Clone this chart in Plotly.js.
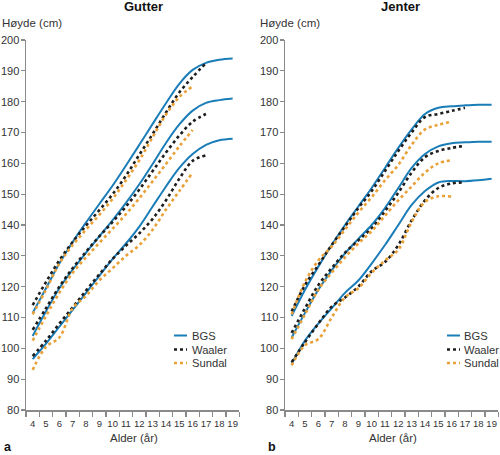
<!DOCTYPE html>
<html>
<head>
<meta charset="utf-8">
<script src="https://cdn.plot.ly/plotly-3.0.1.min.js"></script>
<style>html,body{margin:0;padding:0;background:#fff;}#chart{width:500px;height:455px;}</style>
</head>
<body>
<div id="chart"></div>
<script>
// ---- Data ----
const seriesNames = ["BGS", "Waaler", "Sundal"];
const panelTitles = ["Gutter", "Jenter"];
const panelLetters = ["a", "b"];
const yTickVals = [80, 90, 100, 110, 120, 130, 140, 150, 160, 170, 180, 190, 200];
const xTickVals = [4, 5, 6, 7, 8, 9, 10, 11, 12, 13, 14, 15, 16, 17, 18, 19];

const agesBGS = [4, 5, 6, 7, 8, 9, 10, 11, 12, 13, 14, 15, 16, 17, 18, 19];
const agesWaaler = [4, 5, 6, 7, 8, 9, 10, 11, 12, 13, 14, 15, 16, 17];
const agesSundal = [4, 5, 6, 7, 8, 9, 10, 11, 12, 13, 14, 15, 16];

// Gutter (boys)
const boysBGSHigh = [111.5, 119.5, 127.5, 134.5, 140.8, 146.8, 152.8, 159.3, 166, 172.8, 179.5, 185.8, 190.3, 192.6, 193.6, 194];
const boysBGSMid = [104, 112, 119.5, 125.5, 131, 136.3, 141.6, 147.2, 153.2, 159.8, 166.6, 172.6, 177.1, 179.6, 180.5, 181];
const boysBGSLow = [96.5, 101.5, 107, 112.5, 118, 123.5, 129, 134, 139.5, 146, 152.5, 158.5, 163, 166, 167.5, 168];
const boysWaalerHigh = [114, 121.5, 128.5, 134.5, 139.8, 144.8, 150, 156, 162.8, 169.5, 176.5, 183, 188, 192.5];
const boysWaalerMid = [106, 113, 120, 126, 131.3, 136.3, 141, 146, 151.5, 157.5, 163.5, 169, 173.5, 176];
const boysWaalerLow = [97.5, 102.5, 108, 113.3, 118.7, 124, 129, 133.3, 137.3, 142, 148, 155, 160.8, 162.6];
const boysSundalHigh = [111, 119, 127.5, 133.5, 138.5, 143.3, 148.5, 154.5, 161, 168.5, 175.8, 181.5, 185];
const boysSundalMid = [102.5, 110.5, 118, 124.5, 129.5, 134.2, 138.8, 143.5, 148.7, 154.2, 159.8, 165.5, 170.8];
const boysSundalLow = [93, 100.5, 103.5, 113, 117, 122, 126, 130, 133.5, 138.5, 145, 151, 157];

// Jenter (girls)
const girlsBGSHigh = [110.5, 119, 126.5, 133.5, 140, 146, 152, 158.5, 165, 171, 176, 178, 178.5, 178.8, 179, 179];
const girlsBGSMid = [103.5, 111.5, 119, 125.3, 130.8, 135.5, 140, 145.5, 152, 158.5, 163, 165.5, 166.5, 166.8, 167, 167];
const girlsBGSLow = [95, 102.5, 108, 113, 118, 122, 127.5, 133.5, 140, 146.5, 151, 153.8, 154.3, 154.2, 154.5, 155];
const girlsWaalerHigh = [112, 120.5, 127, 133.5, 139.5, 145.5, 151, 157.5, 164, 170, 175, 176, 177, 178];
const girlsWaalerMid = [105, 113, 120.5, 126, 131, 135, 139, 144.5, 150.5, 157, 162, 164, 165, 165.7];
const girlsWaalerLow = [95.5, 102, 108, 113.5, 116.5, 120, 125, 128, 133.5, 141.5, 148, 152, 153.5, 153.8];
const girlsSundalHigh = [111, 121.5, 128.5, 133, 138.5, 144, 149, 154.5, 159.5, 166, 171, 172.5, 173.5];
const girlsSundalMid = [103, 111, 119, 124.5, 129.5, 134, 138, 143, 148, 152.5, 157, 160, 161];
const girlsSundalLow = [94.5, 101, 103, 110, 116.5, 119.5, 124.5, 128.5, 132, 141, 147.5, 149.3, 149.2];

// ---- Styles ----
const colors = {BGS: "#1b7db8", Waaler: "#1e1e1e", Sundal: "#e9a036"};
const lineStyles = {
  BGS: {color: colors.BGS, width: 2, dash: "solid", shape: "spline", smoothing: 1},
  Waaler: {color: colors.Waaler, width: 2.6, dash: "dot", shape: "spline", smoothing: 1},
  Sundal: {color: colors.Sundal, width: 2.6, dash: "dot", shape: "spline", smoothing: 1}
};

const panels = [
  {xa: "x", ya: "y", data: {
    BGS: [agesBGS, [boysBGSHigh, boysBGSMid, boysBGSLow]],
    Waaler: [agesWaaler, [boysWaalerHigh, boysWaalerMid, boysWaalerLow]],
    Sundal: [agesSundal, [boysSundalHigh, boysSundalMid, boysSundalLow]]
  }},
  {xa: "x2", ya: "y2", data: {
    BGS: [agesBGS, [girlsBGSHigh, girlsBGSMid, girlsBGSLow]],
    Waaler: [agesWaaler, [girlsWaalerHigh, girlsWaalerMid, girlsWaalerLow]],
    Sundal: [agesSundal, [girlsSundalHigh, girlsSundalMid, girlsSundalLow]]
  }}
];

const traces = [];
panels.forEach(p => {
  seriesNames.forEach(name => {
    const [ages, curves] = p.data[name];
    curves.forEach(vals => {
      traces.push({
        type: "scatter", mode: "lines", x: ages, y: vals,
        xaxis: p.xa, yaxis: p.ya, name: name, showlegend: false,
        hoverinfo: "skip",
        line: Object.assign({}, lineStyles[name])
      });
    });
  });
});

const W = 500, H = 455;
const px = v => v / W;
const py = v => 1 - v / H;
const FONT = "Liberation Sans, Arial, Helvetica, sans-serif";

const minorVals = [];
for (let v = 3.5; v <= 19.5; v += 1) minorVals.push(v);

function xAxis(domain, anchor) {
  return {
    domain: domain, anchor: anchor, range: [3.5, 19.5], fixedrange: true,
    showgrid: false, zeroline: false, showline: true, linecolor: "#8a8a8a", linewidth: 1.5,
    tickmode: "array", tickvals: xTickVals, ticktext: xTickVals.map(String),
    ticks: "outside", ticklen: 4, tickcolor: "rgba(0,0,0,0)",
    tickfont: {family: FONT, size: 9.5, color: "#333"},
    minor: {tickmode: "array", tickvals: minorVals, ticks: "outside", ticklen: 5, tickcolor: "#8a8a8a", tickwidth: 1.2, showgrid: false}
  };
}
function yAxis(anchor) {
  return {
    domain: [py(410), py(40)], anchor: anchor, range: [80, 200], fixedrange: true,
    showgrid: false, zeroline: false, showline: true, linecolor: "#8a8a8a", linewidth: 1.5,
    tickmode: "array", tickvals: yTickVals, ticks: "outside", ticklen: 4, tickcolor: "#8a8a8a", tickwidth: 1.2,
    ticklabelstandoff: -1,
    tickfont: {family: FONT, size: 11, color: "#333"}
  };
}

const annotations = [];
const shapes = [];
const panelPix = [
  {title: 143, ylab: 0, xlab: 134, letter: 3, legLine: [174, 187], legText: 189.5},
  {title: 400, ylab: 258, xlab: 393, letter: 267, legLine: [447, 460], legText: 462}
];
panelPix.forEach((pp, i) => {
  annotations.push({xref: "paper", yref: "paper", x: px(pp.title), y: py(7), xanchor: "center", yanchor: "middle",
    text: "<b>" + panelTitles[i] + "</b>", showarrow: false, font: {family: FONT, size: 13, color: "#111"}});
  annotations.push({xref: "paper", yref: "paper", x: px(pp.ylab), y: py(23), xanchor: "left", yanchor: "middle",
    text: "Høyde (cm)", showarrow: false, font: {family: FONT, size: 11.5, color: "#333"}});
  annotations.push({xref: "paper", yref: "paper", x: px(pp.xlab), y: py(438), xanchor: "center", yanchor: "middle",
    text: "Alder (år)", showarrow: false, font: {family: FONT, size: 11.5, color: "#333"}});
  annotations.push({xref: "paper", yref: "paper", x: px(pp.letter), y: py(446.5), xanchor: "left", yanchor: "middle",
    text: "<b>" + panelLetters[i] + "</b>", showarrow: false, borderpad: 0, font: {family: FONT, size: 12.5, color: "#111"}});
  const legY = [335.5, 349.5, 363];
  seriesNames.forEach((name, k) => {
    const st = lineStyles[name];
    shapes.push({type: "line", xref: "paper", yref: "paper",
      x0: px(pp.legLine[0]), x1: px(pp.legLine[1]), y0: py(legY[k]), y1: py(legY[k]),
      line: {color: st.color, width: st.width, dash: st.dash}});
    annotations.push({xref: "paper", yref: "paper", x: px(pp.legText), y: py(legY[k]), xanchor: "left", yanchor: "middle",
      text: name, showarrow: false, font: {family: FONT, size: 11.2, color: "#333"}});
  });
});

const layout = {
  width: W, height: H, margin: {l: 0, r: 0, t: 0, b: 0, pad: 0},
  paper_bgcolor: "#fff", plot_bgcolor: "#fff", showlegend: false,
  font: {family: FONT},
  xaxis: xAxis([px(26), px(239.3)], "y"),
  yaxis: yAxis("x"),
  xaxis2: xAxis([px(285), px(498.3)], "y2"),
  yaxis2: yAxis("x2"),
  annotations: annotations, shapes: shapes
};

Plotly.newPlot("chart", traces, layout, {staticPlot: true, displayModeBar: false});
</script>
</body>
</html>
